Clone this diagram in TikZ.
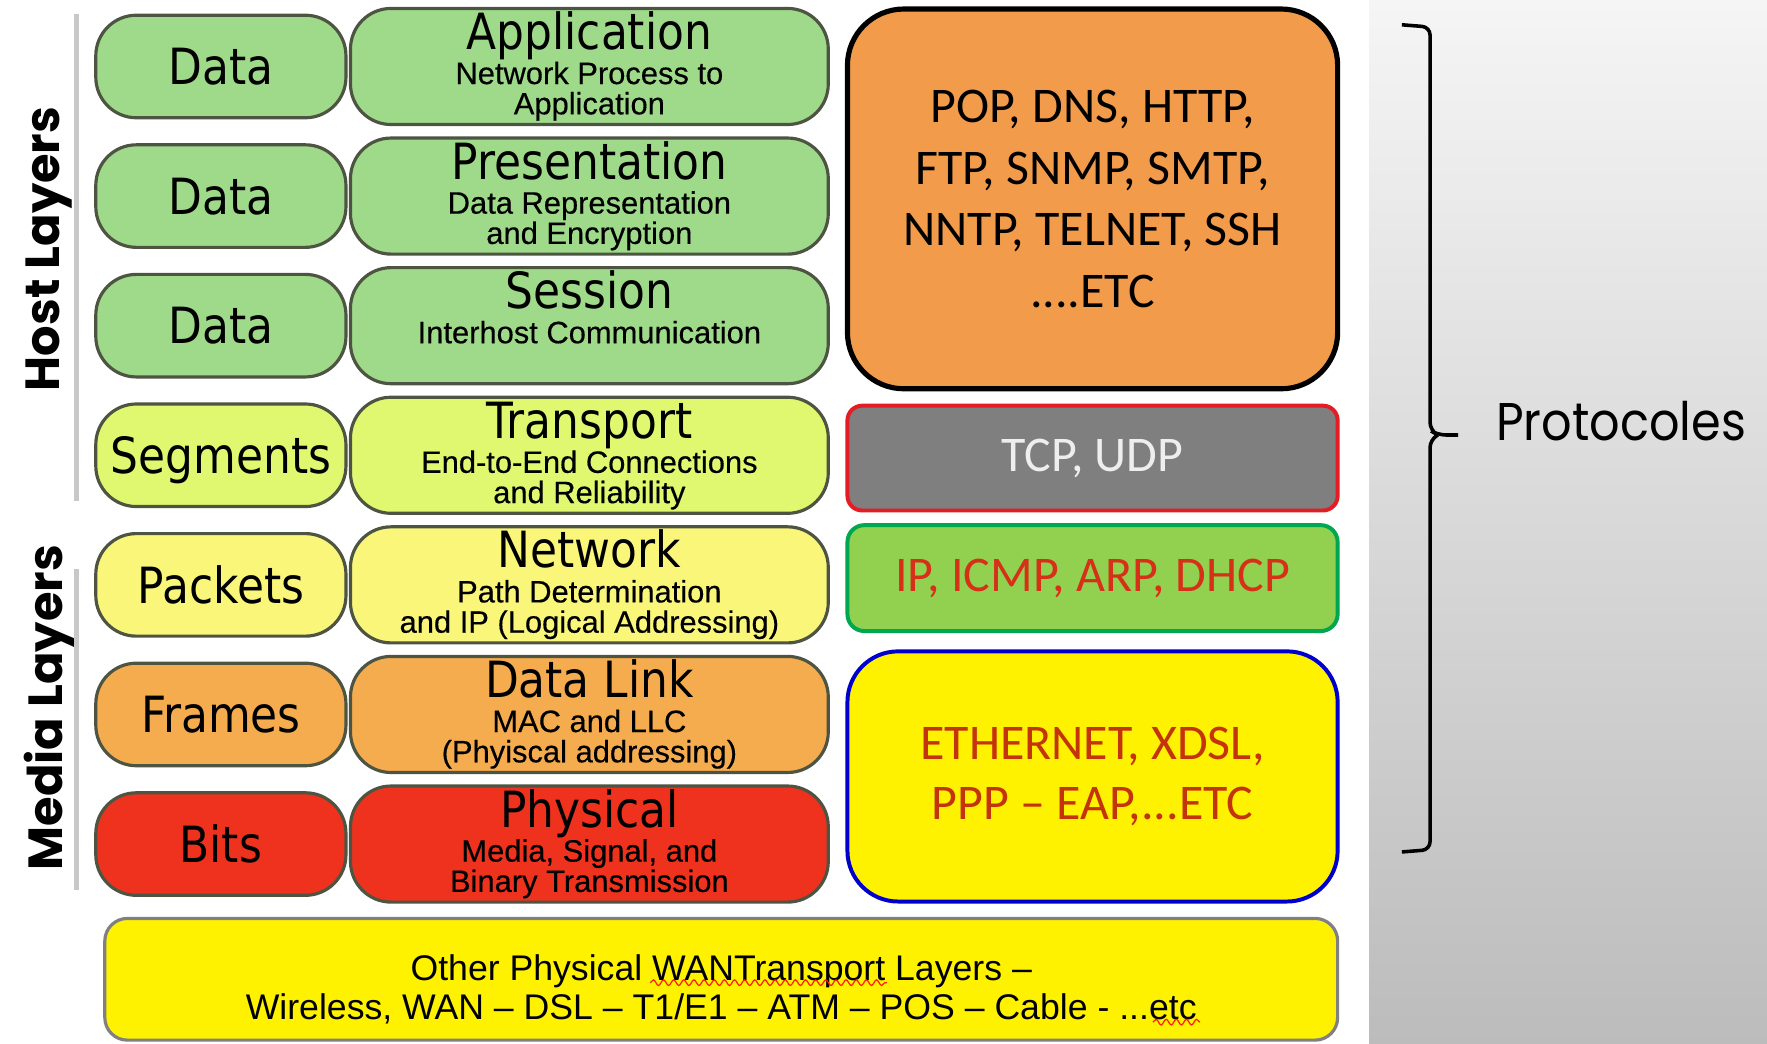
\documentclass[tikz,border=0pt]{standalone}
\usepackage{fontspec}
\setmainfont{Liberation Sans}
\newfontfamily\laytitle{DejaVu Sans}[FakeStretch=0.88]
\newfontfamily\laysub{Liberation Sans}[FakeBold=0.4]
\newfontfamily\protofont{Carlito}
\newfontfamily\geofont{Poppins}
\newfontfamily\brfont{Poppins}[FakeStretch=0.9]
\usepackage{tikz}
\usetikzlibrary{positioning, decorations.pathmorphing}

\definecolor{edgegray}{RGB}{78,84,66}
\definecolor{hostgreen}{RGB}{158,218,138}
\definecolor{transgreen}{RGB}{224,248,112}
\definecolor{netyellow}{RGB}{250,246,122}
\definecolor{linkorange}{RGB}{245,172,78}
\definecolor{physred}{RGB}{238,50,30}
\definecolor{applorange}{RGB}{242,155,75}
\definecolor{tcpgray}{RGB}{127,127,127}
\definecolor{tcpred}{RGB}{228,28,36}
\definecolor{tcptext}{RGB}{238,238,238}
\definecolor{ipgreen}{RGB}{146,208,80}
\definecolor{ipedge}{RGB}{0,166,80}
\definecolor{protored}{RGB}{214,48,24}
\definecolor{ethred}{RGB}{196,52,10}
\definecolor{ethblue}{RGB}{0,0,204}
\definecolor{sideline}{RGB}{200,200,200}
\definecolor{backlight}{RGB}{245,245,245}
\definecolor{backdark}{RGB}{188,188,188}

\begin{document}
\begin{tikzpicture}[x=0.1mm, y=-0.1mm,
  node distance=0cm,
  layer/.style={rectangle, draw=edgegray, rounded corners=3.6mm,
    line width=0.8pt, inner sep=0pt},
  pdu/.style={layer, minimum width=22.2mm, minimum height=9.1mm,
    font=\laytitle\fontsize{12.6}{14}\selectfont,
    text height=9.2pt, text depth=0pt},
  osi/.style={layer, minimum width=42.4mm, minimum height=10.3mm},
  ttl/.style={font=\laytitle\fontsize{12.6}{14}\selectfont,
    inner sep=0pt, anchor=base},
  expl/.style={font=\laysub\fontsize{7.8}{7.65}\selectfont,
    align=center, inner sep=0pt, anchor=north},
  proto/.style={rectangle, line width=1pt, minimum width=43.5mm,
    align=center, font=\protofont\fontsize{12.6}{15.6}\selectfont},
  side/.style={font=\geofont\bfseries\fontsize{12.1}{14}\selectfont,
    rotate=90, text depth=0pt},
  rule/.style={draw=sideline, line width=1.2pt},
  brace/.style={line width=0.9pt, rounded corners=2pt},
  squiggle/.style={draw=red!80!orange, line width=0.3pt, decorate,
    decoration={snake, amplitude=0.25mm, segment length=0.9mm}},
]

\useasboundingbox (0,0) rectangle (1568,926);
\shade[top color=backlight, bottom color=backdark]
  (1215,0) rectangle (1568,926);

% OSI layers with their data units
\foreach \nm/\pdutxt/\laytxt/\expltxt/\fc/\y in {
  app/Data/Application/{Network Process to\\Application}/hostgreen/59,
  pre/Data/Presentation/{Data Representation\\and Encryption}/hostgreen/174,
  ses/Data/Session/{Interhost Communication}/hostgreen/289,
  tra/Segments/Transport/{End-to-End Connections\\and Reliability}/transgreen/404,
  net/Packets/Network/{Path Determination\\and IP (Logical Addressing)}/netyellow/519,
  dll/Frames/Data Link/{MAC and LLC\\(Phyiscal addressing)}/linkorange/634,
  phy/Bits/Physical/{Media, Signal, and\\Binary Transmission}/physred/749}{
  \node[pdu, fill=\fc] (u\nm) at (196,\y) {\pdutxt};
  \node[osi, fill=\fc] (l\nm) at (523,\y) {};
  \node[ttl] (t\nm) at (523,\y-15) {\laytxt};
  \node[expl] (e\nm) at (523,\y-5) {\expltxt};
}

\node[layer, draw=gray, fill=yellow, rounded corners=2mm,
      minimum width=109.4mm, minimum height=10.8mm]
      (wan) at (640,869) {};
\node[align=center, inner sep=0pt, font=\fontsize{9}{9.9}\selectfont]
      (wantxt) at (640,878)
      {Other Physical WANTransport Layers –\\
       Wireless, WAN – DSL – T1/E1 – ATM – POS – Cable - ...etc};
\draw[squiggle] (577,872) -- (787,872);
\draw[squiggle] (1023,907) -- (1065,907);

% protocols
\node[proto, fill=applorange, draw=black, line width=1.3pt,
      rounded corners=5mm, minimum height=33.7mm]
      (upper) at (969.5,176.5)
      {POP, DNS, HTTP,\\FTP, SNMP, SMTP,\\NNTP, TELNET, SSH\\....ETC};
\node[proto, fill=tcpgray, draw=tcpred, text=tcptext,
      rounded corners=1.3mm, minimum height=9.3mm]
      (tcp) at (969.5,406.5) {TCP, UDP};
\node[proto, fill=ipgreen, draw=ipedge, text=protored,
      rounded corners=1.5mm, minimum height=9.4mm]
      (ip) at (969.5,513) {IP, ICMP, ARP, DHCP};
\node[proto, fill=yellow, draw=ethblue, text=ethred,
      rounded corners=4.5mm, minimum height=22.2mm,
      font=\protofont\fontsize{12.6}{15}\selectfont]
      (eth) at (969.5,689) {ETHERNET, XDSL,\\PPP – EAP,...ETC};

% side labels
\node[side] (host) at (38,221) {Host Layers};
\node[side] (media) at (38,628) {Media Layers};
\draw[rule] (68,12) -- (68,445);
\draw[rule] (68,505) -- (68,790);

% brace
\draw[brace] (1244,22) -- (1269,24) -- (1269,382) -- (1276,386) -- (1294,386);
\draw[brace] (1276,386) -- (1269,390) -- (1269,754) -- (1244,756);
\node[font=\brfont\fontsize{13.4}{16}\selectfont, anchor=base west,
      inner sep=0pt] (protocoles) at (1327,391) {Protocoles};

\end{tikzpicture}
\end{document}
